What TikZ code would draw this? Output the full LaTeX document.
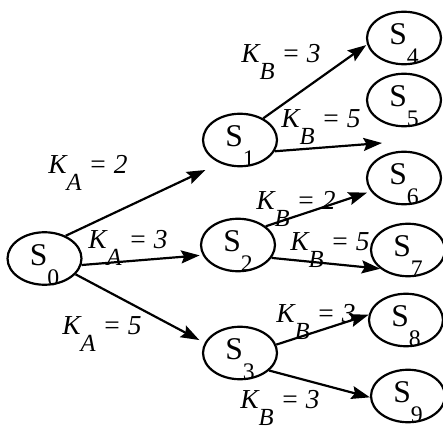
\documentclass[tikz,border=0pt]{standalone}
\usepackage{fontspec}
\setmainfont{Liberation Serif}
\usetikzlibrary{arrows.meta,shapes.geometric}
\newcommand{\Sn}[1]{\smash{\raisebox{-3.7pt}{S\raisebox{-11.4pt}{\fontsize{13.5}{13.5}\selectfont #1}}}}
\newcommand{\Kw}[2]{K\raisebox{-10pt}{\fontsize{14}{14}\selectfont #1} = #2}
\begin{document}
\begin{tikzpicture}[x=0.02cm,y=-0.02cm,
  state/.style={draw, ellipse, line width=1.25pt, minimum width=1.48cm, minimum height=1.05cm, inner sep=0pt, font=\fontsize{18}{18}\selectfont},
  wt/.style={inner sep=0pt, font=\fontsize{15.6}{16}\selectfont\itshape},
  arr/.style={line width=1.25pt, -{Stealth[length=0.37cm,width=0.26cm,inset=0.06cm]}}]
\useasboundingbox (0,0) rectangle (443,429);
% states
\node[state] (s0) at (44.5,258.5) {\Sn{0}};
\node[state] (s1) at (240,140) {\Sn{1}};
\node[state] (s2) at (238,245) {\Sn{2}};
\node[state] (s3) at (240,353) {\Sn{3}};
\node[state] (s4) at (404,38) {\Sn{4}};
\node[state] (s5) at (404,100) {\Sn{5}};
\node[state] (s6) at (404,178) {\Sn{6}};
\node[state] (s7) at (408,250) {\Sn{7}};
\node[state] (s8) at (406,320) {\Sn{8}};
\node[state] (s9) at (408,396) {\Sn{9}};
\coordinate (e15) at (382,143);
% first stage
\draw[arr, shorten >=0.32cm] (s0.47) -- (s1.229);
\draw[arr, shorten >=0.06cm] (s0.-10) -- (s2.196);
\draw[arr, shorten >=0.12cm] (s0.-27) -- (s3.164);
% second stage
\draw[arr, shorten >=0.02cm] (s1.43) -- (s4.190);
\draw[arr] (s1.-18) -- (e15);
\draw[arr, shorten >=0.08cm] (s2.34) -- (s6.202);
\draw[arr] (s2.-21) -- (s7.214);
\draw[arr] (s3.13) -- (s8.172);
\draw[arr] (s3.-31) -- (s9.182);
% weights
\node[wt] (w01) at (88,173) {\Kw{A}{2}};
\node[wt] (w02) at (128,248) {\Kw{A}{3}};
\node[wt] (w03) at (102,334) {\Kw{A}{5}};
\node[wt] (w14) at (281,62) {\Kw{B}{3}};
\node[wt] (w15) at (321,127) {\Kw{B}{5}};
\node[wt] (w26) at (296,209) {\Kw{B}{2}};
\node[wt] (w27) at (330,250) {\Kw{B}{5}};
\node[wt] (w38) at (316,322) {\Kw{B}{3}};
\node[wt] (w39) at (280,408) {\Kw{B}{3}};
\end{tikzpicture}
\end{document}
